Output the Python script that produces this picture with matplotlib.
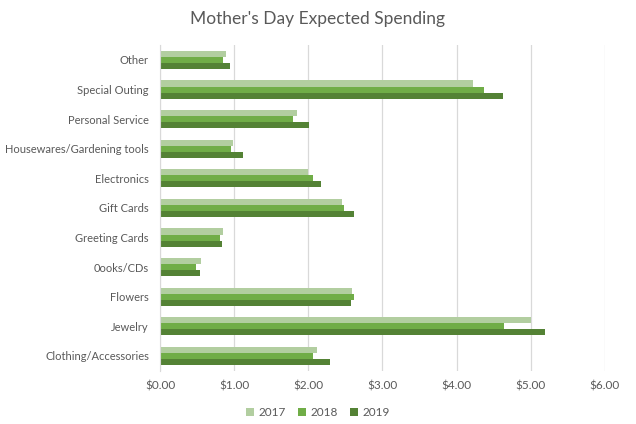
import matplotlib
matplotlib.use("Agg")
import matplotlib.pyplot as plt
import numpy as np
from matplotlib.ticker import FuncFormatter

categories = ["Clothing/Accessories", "Jewelry", "Flowers", "0ooks/CDs", "Greeting Cards",
              "Gift Cards", "Electronics", "Housewares/Gardening tools", "Personal Service",
              "Special Outing", "Other"]
v2017 = [2.12, 5.01, 2.59, 0.55, 0.85, 2.45, 2.00, 0.99, 1.85, 4.22, 0.89]
v2018 = [2.06, 4.64, 2.61, 0.49, 0.81, 2.48, 2.06, 0.96, 1.79, 4.37, 0.85]
v2019 = [2.29, 5.19, 2.57, 0.54, 0.84, 2.61, 2.17, 1.12, 2.01, 4.62, 0.94]
years = ["2017", "2018", "2019"]
colors = ["#B2CEA0", "#70AD47", "#548235"]

plt.rcParams['font.family'] = ['Lato', 'DejaVu Sans']
fig = plt.figure(figsize=(6.36, 4.24), dpi=100)
ax = fig.add_axes([0.2516, 0.1255, 0.6994, 0.768])

y = np.arange(len(categories))
h = 0.205
for i, (vals, lab, c) in enumerate(zip([v2017, v2018, v2019], years, colors)):
    ax.barh(y + (1 - i) * h, vals, height=h, color=c, label=lab)

ax.set_xlim(0, 6)
ax.set_ylim(-0.5, len(categories) - 0.5)
ax.set_xticks(np.arange(0, 7, 1))
ax.xaxis.set_major_formatter(FuncFormatter(lambda v, p: f"${v:.2f}"))
ax.set_yticks(y)
ax.set_yticklabels(categories)
ax.grid(axis='x', color='#D9D9D9', linewidth=0.9)
ax.set_axisbelow(True)
for s in ['top', 'right', 'bottom']:
    ax.spines[s].set_visible(False)
ax.spines['left'].set_color('#D9D9D9')
ax.tick_params(axis='both', length=0, labelcolor='#595959')
ax.tick_params(axis='x', pad=7, labelsize=8.5)
ax.tick_params(axis='y', pad=8, labelsize=8)

fig.suptitle("Mother's Day Expected Spending", x=0.5, y=0.975, fontsize=12.5, color='#595959')
leg = fig.legend(loc='lower center', bbox_to_anchor=(0.5, -0.012), ncol=3, frameon=False,
                 fontsize=8.5, handlelength=0.7, handleheight=0.7, handletextpad=0.4,
                 columnspacing=1.0)
for t in leg.get_texts():
    t.set_color('#595959')

fig.savefig("out.png", dpi=100)
